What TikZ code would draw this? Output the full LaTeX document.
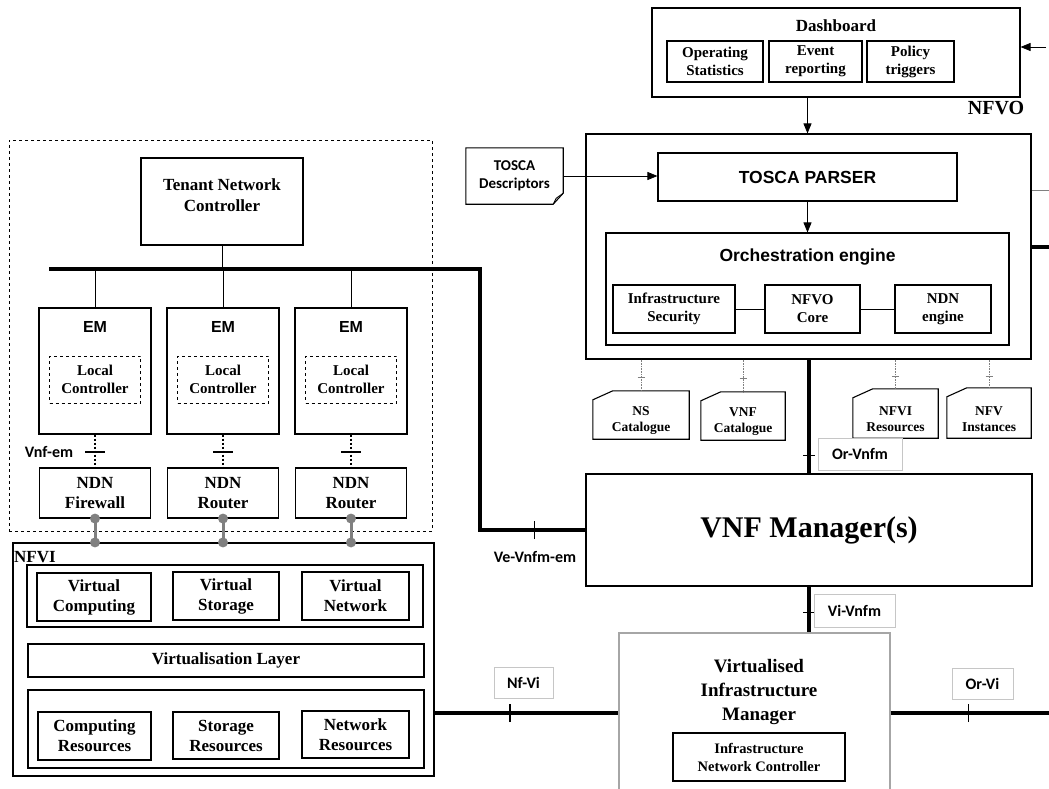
\documentclass[tikz,border=0pt]{standalone}
\usepackage{fontspec}
\setmainfont{Liberation Serif}
\newfontfamily\arialfont{Liberation Sans}
\newfontfamily\calfont{Carlito}
\usetikzlibrary{calc,arrows.meta,decorations.markings}

\tikzset{
  blk/.style 2 args={draw,line width=1.1pt,minimum width=#1,minimum height=#2,inner sep=0pt,align=center},
  tsz/.style 2 args={font=\bfseries\fontsize{#1}{#2}\selectfont,align=center},
  asz/.style 2 args={font=\arialfont\bfseries\fontsize{#1}{#2}\selectfont,align=center},
  csz/.style 2 args={font=\calfont\bfseries\fontsize{#1}{#2}\selectfont,align=center},
  lbl/.style 2 args={draw=gray!45,line width=0.6pt,minimum width=#1,minimum height=#2,inner sep=0pt,csz={16}{18}},
  cat/.style 2 args={minimum width=#1,minimum height=#2,inner sep=0pt},
  bus/.style={line width=4pt},
  arr/.style={line width=0.8pt,-{Triangle[length=10pt,width=8pt]}},
  itf/.style n args={3}{postaction={decorate,decoration={markings,
    mark=at position #1 with {\draw[solid,line width=#3] (0,-#2) -- (0,#2);}}}},
}

\begin{document}
\begin{tikzpicture}[x=1pt,y=-1pt]
  \path[use as bounding box,clip] (0,0) rectangle (1049,789);
  \coordinate (rim) at (1049,0);

  % tenant side
  \node[blk={423pt}{391pt},dashed,line width=0.8pt] (tdom) at (220.5,335.5) {};
  \node[blk={162pt}{87pt}] (tnc) at (222,201.5) {};
  \node[tsz={17}{21}] (tncT) at (222,195.5) {Tenant Network\\Controller};
  \coordinate (busL) at (49,269);\coordinate (busR) at (480,269);
  \draw (tnc.south) -- (tnc.south |- busL);

  % NFVI
  \node[blk={421pt}{233pt}] (nfvi) at (223.5,659.5) {};
  \node[tsz={17}{20},anchor=west,inner sep=0pt] (nfviT) at (14,557) {NFVI};
  \node[blk={396pt}{62pt}] (vgrp) at (225,596) {};
  \node[blk={114pt}{48pt},tsz={17}{20}] (vcomp) at (94,597) {Virtual\\Computing};
  \node[blk={106pt}{48pt},tsz={17}{20}] (vstor) at (226,596) {Virtual\\Storage};
  \node[blk={107pt}{48pt},tsz={17}{20}] (vnet) at (355.5,596) {Virtual\\Network};
  \node[blk={396pt}{33pt},tsz={17}{20}] (vlay) at (226,660.5) {Virtualisation Layer};
  \node[blk={396pt}{78pt}] (rgrp) at (226,729) {};
  \node[blk={113pt}{48pt},tsz={17}{20}] (cres) at (94.5,736) {Computing\\Resources};
  \node[blk={106pt}{47pt},tsz={17}{20}] (sres) at (226,735.5) {Storage\\Resources};
  \node[blk={107pt}{47pt},tsz={17}{20}] (nres) at (355.5,734.5) {Network\\Resources};

  \foreach \i/\x/\nm in {1/95/Firewall,2/223/Router,3/351/Router}{
    \node[blk={112pt}{126pt}] (em\i) at (\x,371) {};
    \node[asz={16}{18}] (emT\i) at (\x,327) {EM};
    \node[blk={91pt}{47pt},dashed,line width=0.9pt,tsz={15}{18}] (lc\i) at (\x,379.5) {Local\\Controller};
    \node[blk={111pt}{50pt},tsz={17}{20}] (ndn\i) at (\x,493) {NDN\\\nm};
    \draw (em\i.north) -- (em\i.north |- busL);
    \draw[line width=2pt,dotted,itf={0.53}{10pt}{2pt}] (em\i.south) -- (ndn\i.north);
    \draw[gray,line width=3pt] (ndn\i.south) -- (ndn\i.south |- nfvi.north);
    \fill[gray] (ndn\i.south) circle[radius=5pt] (ndn\i.south |- nfvi.north) circle[radius=5pt];
  }
  \node[csz={16}{18}] (vnfem) at (49,452) {Vnf-em};

  % dashboard
  \node[blk={368pt}{89pt}] (dash) at (836,52.5) {};
  \node[tsz={17}{20}] (dashT) at (836,26) {Dashboard};
  \node[blk={96pt}{41pt},tsz={15}{18}] (opst) at (715,61.5) {Operating\\Statistics};
  \node[blk={93pt}{41pt},tsz={15}{18}] (evrp) at (815.5,61.5) {Event\\reporting};
  \node[blk={87pt}{41pt},tsz={15}{18}] (pltr) at (910.5,61.5) {Policy\\triggers};
  \coordinate (dshin) at (1046,47);
  \draw[arr] (dshin) -- (dshin -| dash.east);
  \node[tsz={20}{24}] (nfvoT) at (996,108) {NFVO};

  % NFVO
  \node[blk={445pt}{225pt}] (nfvo) at (808.5,246.5) {};
  \node[blk={299pt}{48pt},asz={17.5}{20}] (parser) at (807.5,177) {TOSCA PARSER};
  \node[blk={403pt}{112pt}] (orch) at (807.5,289) {};
  \node[asz={17.5}{20}] (orchT) at (807.5,257) {Orchestration engine};
  \node[blk={122pt}{48pt},tsz={15}{18}] (insec) at (674,309) {Infrastructure\\Security};
  \node[blk={95pt}{48pt},tsz={15}{18}] (core) at (812.5,309) {NFVO\\Core};
  \node[blk={96pt}{48pt},tsz={15}{18}] (ndne) at (943,309) {NDN\\engine};
  \draw[line width=0.6pt] (insec) -- (core) -- (ndne);
  \draw[arr] (parser.north |- dash.south) -- (parser.north |- nfvo.north);
  \draw[arr] (parser.south) -- (parser.south |- orch.north);
  \draw[gray,line width=1pt] (nfvo.east |- 0,190) -- (rim |- 0,190);
  \draw[bus] (nfvo.east) -- (nfvo.east -| rim);

  % descriptors
  \node[minimum width=97pt,minimum height=56pt,inner sep=0pt,csz={15}{18}] (tosca) at (514.5,176) {TOSCA\\Descriptors};
  \draw[line width=1.1pt] (tosca.north west) -- (tosca.north east) -- ($(tosca.south east)+(0,-11)$)
    -- ($(tosca.south east)+(-10,0)$) -- (tosca.south west) -- cycle;
  \draw[line width=0.8pt] ($(tosca.south east)+(0,-11)$) -- ($(tosca.south east)+(-7,-6)$) -- ($(tosca.south east)+(-10,0)$);
  \draw[arr] (tosca.east) -- (tosca.east -| parser.west);

  % catalogues
  \foreach \c/\x/\y/\w/\h/\t in {nscat/641/415/96/48/{NS\\Catalogue},vnfcat/743/416/84/48/{VNF\\Catalogue},
      nfvires/895.5/413.5/85/49/{NFVI\\Resources},nfvinst/989/413/84/50/{NFV\\Instances}}{
    \node[cat={\w pt}{\h pt}] (\c) at (\x,\y) {};
    \node[tsz={13.5}{16}] (\c T) at (\x,\y+6) {\t};
    \draw[line width=1.1pt] ($(\c.north west)+(0,9)$) -- ($(\c.north west)+(20,0)$) -- (\c.north east)
      -- (\c.south east) -- (\c.south west) -- cycle;
    \draw[gray,line width=0.6pt,densely dotted,itf={0.58}{3.5pt}{0.8pt}] (nfvo.south -| \c.north) -- (\c.north);
  }

  % VNF manager and VIM
  \node[blk={446pt}{112pt},tsz={30}{34}] (vnfm) at (809,530) {VNF Manager(s)};
  \node[blk={271pt}{160pt},draw=gray!70] (vim) at (754.5,713) {};
  \node[tsz={19}{24}] (vimT) at (759,692) {Virtualised\\Infrastructure\\Manager};
  \node[blk={172pt}{48pt},tsz={14.5}{18}] (incon) at (759,757) {Infrastructure\\Network Controller};

  \draw[bus,itf={0.84}{6pt}{1.2pt}] (nfvo.south -| vnfm.north) -- (vnfm.north);
  \node[lbl={84pt}{32pt}] (orvnfm) at (860,454) {Or-Vnfm};
  \draw[bus,itf={0.57}{6pt}{1.2pt}] (vnfm.south) -- (vnfm.south |- vim.north);
  \node[lbl={81pt}{33pt}] (vivnfm) at (854.5,610.5) {Vi-Vnfm};
  \draw[bus,line join=miter] (busL) -- (busR) -- (busR |- vnfm.west) -- (vnfm.west);
  \draw[bus,itf={0.52}{9pt}{1.2pt}] (busR |- vnfm.west) -- (vnfm.west);
  \node[csz={16}{18}] (vevnfm) at (535,557) {Ve-Vnfm-em};
  \draw[bus,itf={0.41}{9pt}{1.2pt}] (nfvi.east |- vim.west) -- (vim.west);
  \node[lbl={59pt}{31pt}] (nfvil) at (523.5,682.5) {Nf-Vi};
  \draw[bus,itf={0.49}{9pt}{1.2pt}] (vim.east) -- (vim.east -| rim);
  \node[lbl={61pt}{31pt}] (orvil) at (982.5,683.5) {Or-Vi};
\end{tikzpicture}
\end{document}
